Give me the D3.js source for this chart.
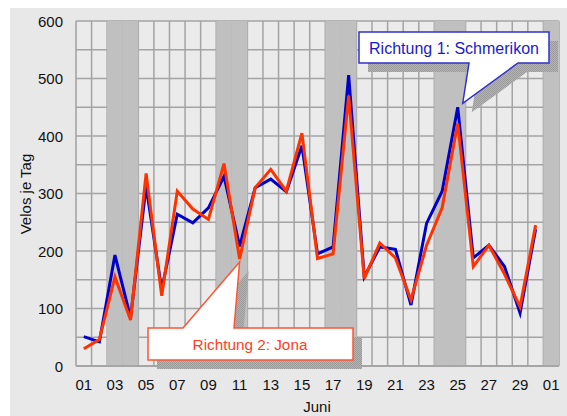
<!DOCTYPE html>
<html>
<head>
<meta charset="utf-8">
<script src="https://cdn.jsdelivr.net/npm/d3@7"></script>
<style>
  body { margin: 0; background: #fff; }
  svg text { font-family: "Liberation Sans", Arial, sans-serif; }
</style>
</head>
<body>
<div class="chart"></div>
<script>
// days shown on the x axis (June 2006 + 1 July)
const days = ["06-01","06-02","06-03","06-04","06-05","06-06","06-07","06-08","06-09","06-10",
  "06-11","06-12","06-13","06-14","06-15","06-16","06-17","06-18","06-19","06-20",
  "06-21","06-22","06-23","06-24","06-25","06-26","06-27","06-28","06-29","06-30","07-01"];
const tickDays = ["06-01","06-03","06-05","06-07","06-09","06-11","06-13","06-15","06-17","06-19",
  "06-21","06-23","06-25","06-27","06-29","07-01"];
const weekendDays = ["06-03","06-04","06-10","06-11","06-17","06-18","06-24","06-25","07-01"];

// Richtung 1: Schmerikon (blue)
const richtung1 = [51, 42, 193, 84, 312, 133, 264, 249, 275, 330, 208, 310, 325, 303, 383,
  195, 207, 506, 155, 207, 203, 106, 248, 304, 450, 188, 210, 173, 92, 238];
// Richtung 2: Jona (red)
const richtung2 = [30, 46, 155, 80, 335, 122, 304, 273, 255, 352, 186, 310, 342, 304, 405,
  187, 195, 470, 152, 214, 188, 115, 210, 275, 422, 173, 210, 160, 103, 245];

const yTicks = [0, 100, 200, 300, 400, 500, 600];
const yGrid = [0, 50, 100, 150, 200, 250, 300, 350, 400, 450, 500, 550, 600];

const W = 567, H = 416;
const pLeft = 76, pRight = 559, pTop = 21, pBottom = 366;

const svg = d3.select('.chart').append('svg').attr('width', W).attr('height', H);

// outer background
svg.append('rect').attr('x', 10).attr('y', 8).attr('width', W - 10).attr('height', H - 8)
  .attr('fill', '#e8e8e8');

const x = d3.scaleBand().domain(days).range([pLeft, pRight]).padding(0);
const y = d3.scaleLinear().domain([0, 600]).range([pBottom, pTop]);
const cx = d => x(d) + x.bandwidth() / 2;

// shadow pattern
const defs = svg.append('defs');
const pat = defs.append('pattern').attr('id', 'shade').attr('width', 2).attr('height', 2)
  .attr('patternUnits', 'userSpaceOnUse');
pat.append('rect').attr('x', 0).attr('y', 0).attr('width', 2).attr('height', 2).attr('fill', '#b4b4b4');
pat.append('rect').attr('x', 0).attr('y', 0).attr('width', 1).attr('height', 1).attr('fill', '#9a9a9a');
pat.append('rect').attr('x', 1).attr('y', 1).attr('width', 1).attr('height', 1).attr('fill', '#9a9a9a');

// plot area
svg.append('rect').attr('x', pLeft).attr('y', pTop).attr('width', pRight - pLeft).attr('height', pBottom - pTop)
  .attr('fill', '#ebebeb');

const grid = svg.append('g').attr('stroke', '#a4a4a4').attr('stroke-width', 1.5);
grid.selectAll('.hg').data(yGrid).enter().append('line')
  .attr('x1', pLeft).attr('x2', pRight).attr('y1', d => y(d)).attr('y2', d => y(d));
grid.selectAll('.vg').data(days).enter().append('line')
  .attr('x1', d => x(d) + x.bandwidth()).attr('x2', d => x(d) + x.bandwidth())
  .attr('y1', pTop).attr('y2', pBottom);

// weekend shading
svg.append('g').selectAll('rect').data(weekendDays).enter().append('rect')
  .attr('x', d => x(d)).attr('y', pTop).attr('width', x.bandwidth()).attr('height', pBottom - pTop)
  .attr('fill', '#c0c0c0');

// axis lines
svg.append('line').attr('x1', pLeft).attr('x2', pLeft).attr('y1', pTop).attr('y2', pBottom)
  .attr('stroke', '#a0a0a0').attr('stroke-width', 1.5);
svg.append('line').attr('x1', pLeft).attr('x2', pRight).attr('y1', pBottom).attr('y2', pBottom)
  .attr('stroke', '#a0a0a0').attr('stroke-width', 1.5);

// y axis labels
svg.append('g').selectAll('text').data(yTicks).enter().append('text')
  .attr('x', 63).attr('y', d => y(d) + 5.5).attr('text-anchor', 'end')
  .attr('font-size', 15).attr('fill', '#111').text(d => d);

// x axis labels
svg.append('g').selectAll('text').data(tickDays).enter().append('text')
  .attr('x', d => cx(d)).attr('y', 390).attr('text-anchor', 'middle')
  .attr('font-size', 15).attr('fill', '#111').text(d => d.slice(3));

svg.append('text').attr('x', 317).attr('y', 412).attr('text-anchor', 'middle')
  .attr('font-size', 15).attr('fill', '#111').text('Juni');

svg.append('text').attr('transform', 'translate(31,194) rotate(-90)').attr('text-anchor', 'middle')
  .attr('font-size', 15).attr('fill', '#111').text('Velos je Tag');

// lines
const june = days.slice(0, 30);
const line = d3.line().x((d, i) => cx(june[i])).y(d => y(d));
svg.append('path').datum(richtung1).attr('d', line).attr('fill', 'none')
  .attr('stroke', '#0000cc').attr('stroke-width', 3).attr('stroke-linejoin', 'miter');
svg.append('path').datum(richtung2).attr('d', line).attr('fill', 'none')
  .attr('stroke', '#ff3300').attr('stroke-width', 3).attr('stroke-linejoin', 'miter');

// callouts
function callout(path, stroke, label, tx, ty, fs, color) {
  svg.append('path').attr('d', path).attr('transform', 'translate(9,9)').attr('fill', 'url(#shade)');
  svg.append('path').attr('d', path).attr('fill', '#fff').attr('stroke', stroke).attr('stroke-width', 1.5);
  svg.append('text').attr('x', tx).attr('y', ty).attr('text-anchor', 'middle')
    .attr('font-size', fs).attr('fill', color).text(label);
}

const tip1 = [cx('06-25') + 5, y(richtung1[24]) - 4];
callout(`M359,32H549V63H518L${tip1[0]},${tip1[1]}L469,63H359Z`, '#3030d0',
  'Richtung 1: Schmerikon', 454, 54, 16, '#1a1acc');

const tip2 = [cx('06-11'), y(richtung2[10]) + 3];
callout(`M148,328H183L${tip2[0]},${tip2[1]}L234,328H353V360H148Z`, '#ff5533',
  'Richtung 2: Jona', 250, 350, 15.3, '#ff4020');
</script>
</body>
</html>
